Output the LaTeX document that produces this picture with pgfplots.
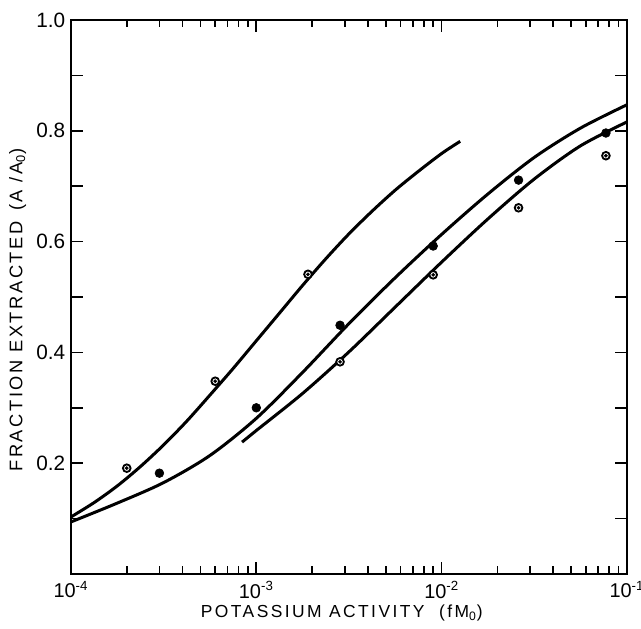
\documentclass[border=0pt]{standalone}
\usepackage{fontspec}
\setmainfont{Liberation Sans}
\newfontfamily\lsfont[LetterSpace=14]{Liberation Sans}
\usepackage{pgfplots}
\pgfplotsset{compat=1.18}

% curves (x is the activity, y is A/A0)
\pgfplotstableread{
x y
1e-4 0.103
1.334e-4 0.129
1.778e-4 0.159
2.371e-4 0.194
3.162e-4 0.233
4.217e-4 0.276
5.623e-4 0.323
7.499e-4 0.371
1e-3 0.421
1.334e-3 0.471
1.778e-3 0.521
2.371e-3 0.569
3.162e-3 0.614
4.217e-3 0.655
5.623e-3 0.693
7.499e-3 0.727
1e-2 0.759
1.259e-2 0.781
}\curveA
\pgfplotstableread{
x y
1e-4 0.094
1.778e-4 0.128
3.162e-4 0.165
5.623e-4 0.214
1e-3 0.281
1.778e-3 0.364
3.162e-3 0.452
5.623e-3 0.535
1e-2 0.613
1.778e-2 0.686
3.162e-2 0.752
5.623e-2 0.805
1e-1 0.847
}\curveB
\pgfplotstableread{
x y
8.375e-4 0.238
1e-3 0.259
1.778e-3 0.326
3.162e-3 0.401
5.623e-3 0.482
1e-2 0.563
1.778e-2 0.641
3.162e-2 0.713
5.623e-2 0.773
1e-1 0.816
}\curveC

\begin{document}
\begin{tikzpicture}
\begin{axis}[
  name=ax,
  scale only axis,
  width=333.6bp, height=332.4bp,
  xmode=log, xmin=1e-4, xmax=1e-1,
  ymin=0, ymax=1,
  xtick={1e-4,1e-3,1e-2,1e-1},
  xticklabels={10\textsuperscript{-4},10\textsuperscript{-3},10\textsuperscript{-2},10\textsuperscript{-1}},
  ytick={0.2,0.4,0.6,0.8,1.0},
  yticklabels={0.2,0.4,0.6,0.8,1.0},
  extra y ticks={0.1,0.3,0.5,0.7,0.9},
  extra y tick labels={},
  tick align=inside,
  major tick length=7bp, minor tick length=4.5bp,
  tick style={line width=1bp, black},
  axis line style={line width=1.3bp},
  yticklabel style={font=\fontsize{12.5}{14}\selectfont},
  xticklabel style={font=\fontsize{12}{14}\selectfont, yshift=-1bp},
  xlabel={\lsfont POTASSIUM ACTIVITY \ (fM\textsubscript{0})},
  ylabel={\lsfont FRACTION EXTRACTED \,(A /A\textsubscript{0})},
  xlabel style={at={(axis description cs:0.487,-0.0700)}, anchor=center, font=\fontsize{10.5}{12}\selectfont},
  ylabel style={at={(axis description cs:-0.096,0.4765)}, anchor=center, font=\fontsize{11}{12}\selectfont},
]
\addplot[black, line width=1.8bp, smooth] table {\curveA};
\addplot[black, line width=1.8bp, smooth] table {\curveB};
\addplot[black, line width=1.8bp, smooth] table {\curveC};

% open circles (curves A and C)
\addplot[only marks, mark=*, mark size=2.3bp, mark options={fill=white, draw=black, line width=1.1bp}]
  coordinates {(2e-4,0.191) (6e-4,0.348) (1.9e-3,0.541)
               (2.83e-3,0.383) (9e-3,0.540) (2.6e-2,0.661) (7.7e-2,0.755)};
\addplot[only marks, mark=*, mark size=0.9bp, black]
  coordinates {(2e-4,0.191) (6e-4,0.348) (1.9e-3,0.541)
               (2.83e-3,0.383) (9e-3,0.540) (2.6e-2,0.661) (7.7e-2,0.755)};
% filled circles (curve B)
\addplot[only marks, mark=*, mark size=2.6bp, black]
  coordinates {(3e-4,0.182) (1e-3,0.300) (2.83e-3,0.449) (9e-3,0.592) (2.6e-2,0.711) (7.7e-2,0.796)};
\end{axis}
\pgfresetboundingbox
\path ([shift={(-42.6bp,-33bp)}]ax.south west) rectangle ([shift={(8.4bp,12bp)}]ax.north east);
\end{tikzpicture}
\end{document}
